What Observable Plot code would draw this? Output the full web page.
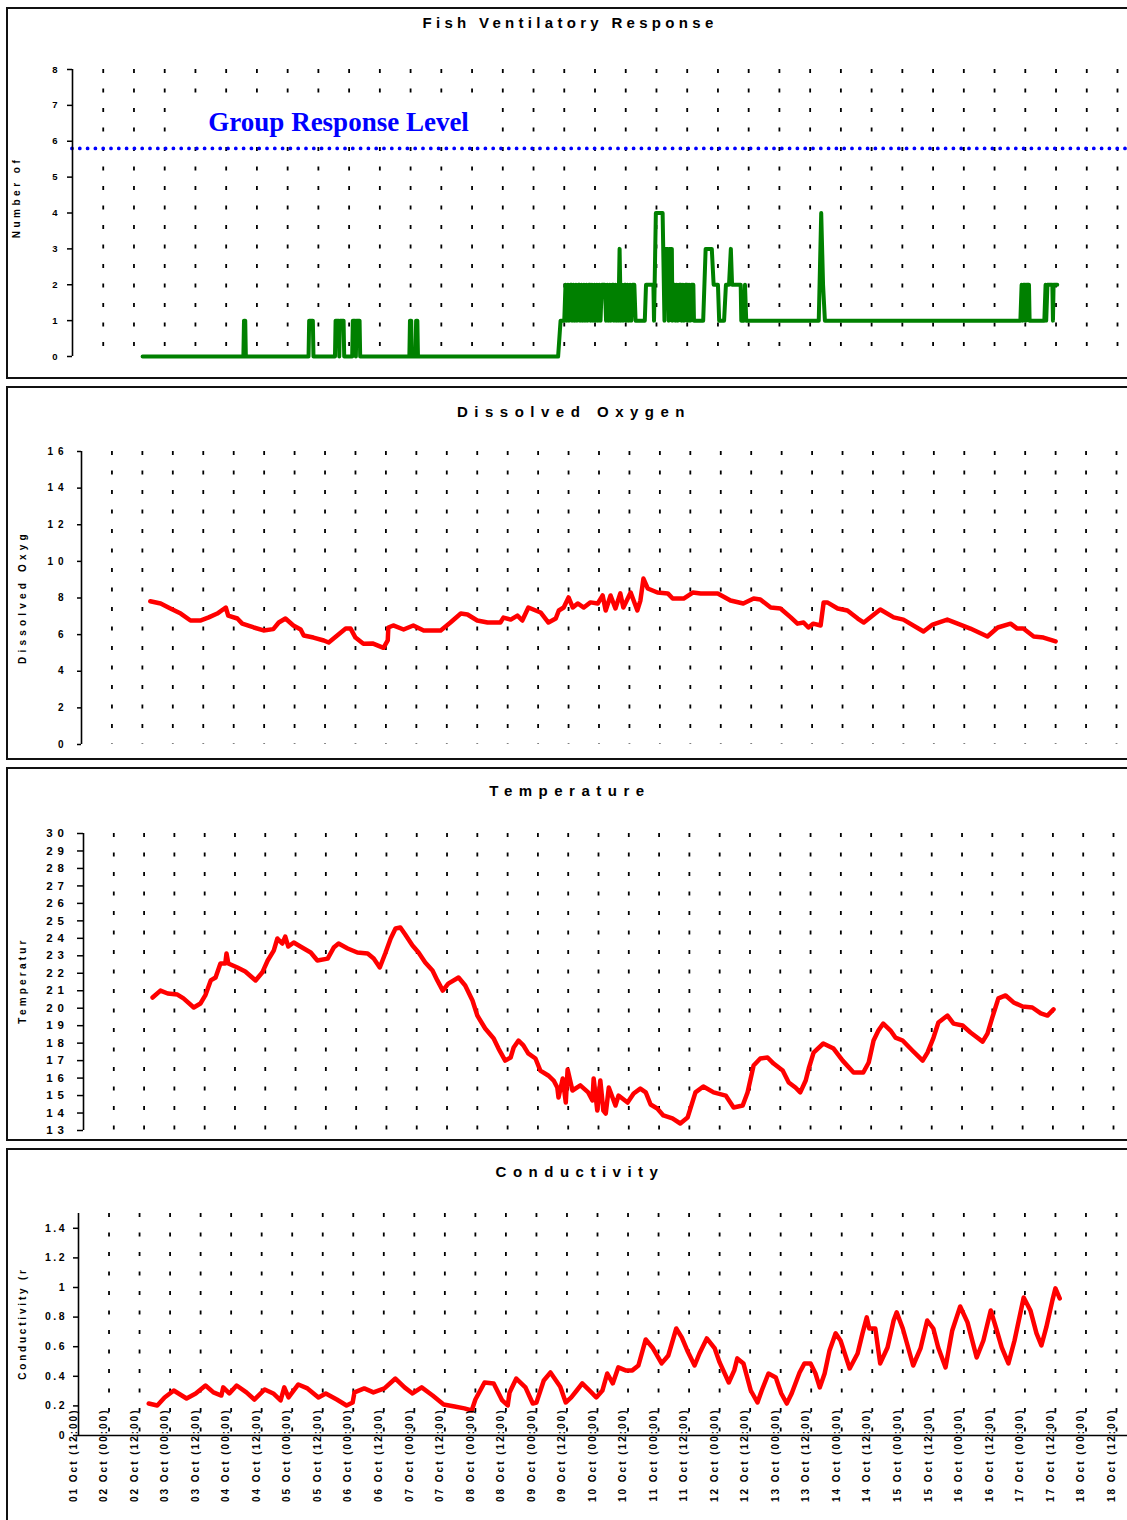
<!DOCTYPE html>
<html>
<head>
<meta charset="utf-8">
<script src="https://cdn.jsdelivr.net/npm/d3@7"></script>
<script src="https://cdn.jsdelivr.net/npm/@observablehq/plot@0.6"></script>
<style>
  html, body { margin: 0; padding: 0; background: #fff; width: 1127px; height: 1520px; overflow: hidden; position: relative; }
  .panel { position: absolute; left: 6px; width: 1140px; border: 2px solid #111; box-sizing: border-box; }
  .title { position: absolute; left: 0; width: 1140px; text-align: center; font-family: "Liberation Sans", Arial, Helvetica, sans-serif; font-weight: bold; color: #000; line-height: 16px; white-space: nowrap; }
  .chart { position: absolute; left: 0; }
</style>
</head>
<body>
<div class="panel" style="top:7px;height:372px"></div>
<div class="panel" style="top:386px;height:374px"></div>
<div class="panel" style="top:767px;height:374px"></div>
<div class="panel" style="top:1148px;height:400px"></div>

<div class="title" id="t1" style="top:15px;font-size:15px;letter-spacing:4.3px"></div>
<div class="title" id="t2" style="top:404px;font-size:15px;letter-spacing:6.5px;left:4px"></div>
<div class="title" id="t3" style="top:783px;font-size:15px;letter-spacing:6.5px"></div>
<div class="title" id="t4" style="top:1164px;font-size:15px;letter-spacing:6.5px;left:10px"></div>

<div class="chart" id="c1" style="top:8px"></div>
<div class="chart" id="c2" style="top:387px"></div>
<div class="chart" id="c3" style="top:768px"></div>
<div class="chart" id="c4" style="top:1149px"></div>

<script>
// ---------------- DATA ----------------
const panelTitles = ["Fish Ventilatory Response", "Dissolved Oxygen", "Temperature", "Conductivity"];
const yLabels = ["Number of", "Dissolved Oxyg", "Temperatur", "Conductivity (r"];

const groupResponseLevel = 5.8;
const groupLabel = "Group Response Level";
const groupLabelDay = 3.71;
const groupLabelY = 6.52;

const xTickLabels = [
  "01 Oct (12:00)", "02 Oct (00:00)", "02 Oct (12:00)", "03 Oct (00:00)", "03 Oct (12:00)",
  "04 Oct (00:00)", "04 Oct (12:00)", "05 Oct (00:00)", "05 Oct (12:00)", "06 Oct (00:00)",
  "06 Oct (12:00)", "07 Oct (00:00)", "07 Oct (12:00)", "08 Oct (00:00)", "08 Oct (12:00)",
  "09 Oct (00:00)", "09 Oct (12:00)", "10 Oct (00:00)", "10 Oct (12:00)", "11 Oct (00:00)",
  "11 Oct (12:00)", "12 Oct (00:00)", "12 Oct (12:00)", "13 Oct (00:00)", "13 Oct (12:00)",
  "14 Oct (00:00)", "14 Oct (12:00)", "15 Oct (00:00)", "15 Oct (12:00)", "16 Oct (00:00)",
  "16 Oct (12:00)", "17 Oct (00:00)", "17 Oct (12:00)", "18 Oct (00:00)", "18 Oct (12:00)"
];

const fishTicks = [0, 1, 2, 3, 4, 5, 6, 7, 8];
const doTicks = [0, 2, 4, 6, 8, 10, 12, 14, 16];
const tempTicks = [13, 14, 15, 16, 17, 18, 19, 20, 21, 22, 23, 24, 25, 26, 27, 28, 29, 30];
const condTicks = [0, 0.2, 0.4, 0.6, 0.8, 1, 1.2, 1.4];

// Fish ventilatory response: time (day of October, decimal) and number of fish
const fishDays = [2.64,4.28,4.29,4.31,4.32,5.34,5.35,5.41,5.42,5.77,5.78,5.83,5.84,5.85,5.91,5.92,
  6.05,6.06,6.10,6.11,6.12,6.17,6.18,6.98,6.99,7.01,7.02,7.08,7.09,7.11,7.12,9.40,9.44,9.50,
  9.52,9.54,9.56,9.58,9.60,9.62,9.63,9.65,9.67,9.69,9.71,9.73,9.75,9.76,9.78,9.80,9.82,9.84,9.86,9.88,
  9.90,9.92,9.93,9.95,9.97,9.99,10.01,10.03,10.05,10.07,10.09,10.11,10.16,10.18,10.20,10.22,10.24,10.26,
  10.28,10.30,10.31,10.33,10.35,10.37,10.38,10.40,10.42,10.44,10.46,10.48,10.50,10.51,10.53,10.55,10.57,
  10.59,10.61,10.64,10.66,10.81,10.83,10.95,10.96,10.99,11.10,11.13,11.15,11.19,11.20,11.21,11.25,11.26,
  11.28,11.30,11.31,11.33,11.35,11.37,11.40,11.41,11.43,11.45,11.47,11.50,11.51,11.53,11.55,11.57,11.60,
  11.61,11.76,11.80,11.90,11.93,12.00,12.02,12.10,12.13,12.18,12.21,12.23,12.37,12.38,12.42,12.44,12.46,
  13.64,13.68,13.71,13.74,16.92,16.94,16.96,16.97,17.00,17.01,17.02,17.06,17.07,17.31,17.33,17.34,17.36,
  17.44,17.45,17.46,17.52];
const fishCounts = [0,0,1,1,0,0,1,1,0,0,1,1,0,1,1,0,
  0,1,1,0,1,1,0,0,1,1,0,0,1,1,0,0,1,1,
  2,1,2,1,2,2,1,2,1,2,1,2,2,1,2,1,2,1,2,1,
  2,2,1,2,1,2,1,2,1,2,1,2,2,1,2,1,2,1,
  2,2,1,2,1,2,1,3,1,2,1,2,2,1,2,1,2,
  1,2,2,1,1,2,2,1,4,4,1,3,3,1,3,3,1,
  2,2,1,2,1,2,2,1,2,1,2,2,1,2,1,2,2,
  1,1,3,3,2,2,1,1,2,2,3,2,2,1,1,2,1,
  1,4,2,1,1,2,1,2,2,1,2,2,1,1,2,1,2,
  2,1,2,2];

// Dissolved oxygen
const doDays = [2.63,2.80,2.96,3.13,3.29,3.45,3.59,3.73,3.87,3.91,4.06,4.14,4.33,4.49,4.65,4.74,4.85,4.98,
  5.10,5.15,5.31,5.48,5.56,5.70,5.84,5.92,6.00,6.13,6.28,6.36,6.46,6.53,6.54,6.62,6.79,6.95,7.12,7.40,
  7.56,7.73,7.84,8.00,8.17,8.38,8.43,8.55,8.66,8.74,8.84,9.04,9.17,9.29,9.34,9.42,9.50,9.57,9.65,9.75,
  9.86,9.98,10.06,10.11,10.19,10.27,10.35,10.40,10.52,10.63,10.68,10.73,10.80,10.96,11.13,11.21,11.39,
  11.54,11.67,11.95,12.16,12.37,12.54,12.65,12.82,12.98,13.15,13.26,13.36,13.44,13.52,13.64,13.69,13.75,
  13.92,14.08,14.25,14.35,14.62,14.84,15.00,15.33,15.48,15.72,15.89,16.10,16.38,16.55,16.76,16.87,16.97,
  17.14,17.30,17.50];
const doValues = [7.82,7.70,7.43,7.15,6.77,6.77,6.94,7.15,7.48,7.04,6.88,6.60,6.39,6.23,6.30,6.66,6.88,6.50,
  6.28,5.95,5.84,5.68,5.57,5.95,6.33,6.33,5.84,5.50,5.52,5.41,5.28,5.68,6.39,6.50,6.28,6.50,6.23,6.23,
  6.66,7.15,7.10,6.77,6.66,6.66,6.93,6.82,7.04,6.77,7.48,7.21,6.66,6.88,7.32,7.48,8.03,7.48,7.70,7.48,
  7.76,7.70,8.14,7.32,8.14,7.43,8.25,7.48,8.30,7.32,7.86,9.06,8.52,8.30,8.25,7.97,7.97,
  8.30,8.25,8.25,7.86,7.70,7.97,7.92,7.48,7.43,6.94,6.60,6.66,6.39,6.60,6.50,7.76,7.76,
  7.43,7.32,6.88,6.66,7.37,6.94,6.82,6.17,6.55,6.82,6.60,6.33,5.90,6.39,6.60,6.33,6.33,
  5.90,5.84,5.63];

// Temperature
const tempDays = [2.64,2.77,2.89,3.05,3.15,3.32,3.43,3.51,3.60,3.68,3.76,3.84,3.86,3.89,4.04,4.17,4.34,4.45,
  4.54,4.64,4.70,4.78,4.83,4.88,4.97,5.08,5.25,5.36,5.53,5.63,5.71,5.86,6.02,6.19,6.29,6.39,6.48,6.57,
  6.65,6.73,6.81,6.93,7.03,7.14,7.26,7.34,7.43,7.52,7.69,7.80,7.92,8.00,8.13,8.27,8.35,8.46,8.55,8.60,
  8.68,8.76,8.84,8.96,9.04,9.17,9.26,9.32,9.34,9.41,9.46,9.49,9.57,9.70,9.83,9.90,9.92,9.98,10.03,10.08,
  10.12,10.17,10.28,10.33,10.48,10.58,10.69,10.78,10.86,10.97,11.07,11.22,11.35,11.47,11.60,11.73,11.90,
  12.10,12.23,12.38,12.46,12.56,12.67,12.79,12.89,13.04,13.14,13.25,13.33,13.42,13.47,13.55,13.71,13.88,
  14.03,14.21,14.37,14.46,14.54,14.62,14.70,14.82,14.90,15.02,15.18,15.35,15.43,15.53,15.61,15.76,15.86,
  16.01,16.14,16.34,16.42,16.50,16.60,16.72,16.85,17.00,17.16,17.30,17.41,17.51];
const tempValues = [20.61,21.01,20.84,20.78,20.56,20.04,20.27,20.73,21.59,21.76,22.56,22.56,23.13,22.56,22.33,22.10,21.59,22.04,
  22.73,23.30,23.99,23.70,24.10,23.53,23.76,23.53,23.19,22.73,22.84,23.47,23.70,23.42,23.19,23.13,22.84,22.33,23.13,23.99,
  24.56,24.62,24.22,23.59,23.19,22.62,22.16,21.59,21.01,21.41,21.76,21.30,20.44,19.58,18.84,18.27,17.69,17.00,17.18,17.75,
  18.15,17.87,17.41,17.12,16.43,16.15,15.86,15.46,14.89,15.98,14.60,16.49,15.29,15.58,15.18,14.72,15.98,14.14,15.86,14.14,
  13.97,15.46,14.43,15.00,14.60,15.12,15.40,15.18,14.49,14.26,13.86,13.69,13.40,13.74,15.18,15.52,15.18,
  15.00,14.32,14.43,15.18,16.72,17.12,17.18,16.83,16.43,15.75,15.46,15.18,15.86,16.55,17.46,17.98,17.69,
  17.00,16.32,16.32,16.89,18.15,18.72,19.12,18.72,18.32,18.15,17.58,17.00,17.46,18.32,19.18,19.58,19.12,
  19.01,18.61,18.09,18.55,19.47,20.56,20.73,20.33,20.10,20.04,19.70,19.58,19.93];

// Conductivity
const condDays = [2.65,2.79,2.91,3.06,3.27,3.42,3.58,3.71,3.84,3.87,3.97,4.09,4.25,4.38,4.55,4.69,4.81,4.87,
  4.94,5.10,5.25,5.43,5.55,5.73,5.89,5.99,6.02,6.18,6.33,6.51,6.69,6.84,6.97,7.12,7.30,7.48,7.66,7.82,
  7.94,8.00,8.15,8.30,8.44,8.53,8.56,8.67,8.82,8.94,9.00,9.12,9.23,9.39,9.48,9.57,9.66,9.75,9.90,9.98,
  10.08,10.16,10.25,10.34,10.46,10.57,10.67,10.79,10.90,11.05,11.16,11.29,11.38,11.47,11.59,11.67,11.79,
  11.92,12.00,12.15,12.24,12.29,12.39,12.51,12.62,12.69,12.80,12.92,13.01,13.10,13.18,13.31,13.39,13.49,
  13.57,13.64,13.72,13.80,13.90,13.98,14.13,14.26,14.34,14.41,14.45,14.55,14.63,14.75,14.85,14.90,15.00,
  15.17,15.29,15.40,15.50,15.58,15.70,15.81,15.94,16.06,16.21,16.32,16.44,16.53,16.62,16.73,16.83,16.98,
  17.09,17.19,17.27,17.35,17.45,17.50,17.57];
const condValues = [0.216,0.203,0.257,0.304,0.25,0.284,0.338,0.291,0.27,0.325,0.284,0.338,0.291,0.243,0.311,0.284,0.237,0.325,
  0.257,0.345,0.318,0.257,0.284,0.243,0.203,0.223,0.291,0.318,0.291,0.318,0.385,0.325,0.284,0.325,0.27,0.21,0.196,0.183,
  0.169,0.243,0.358,0.352,0.237,0.203,0.291,0.385,0.325,0.216,0.223,0.372,0.426,0.33,0.223,0.257,0.304,0.352,0.291,0.257,
  0.304,0.419,0.352,0.46,0.44,0.44,0.473,0.649,0.595,0.487,0.541,0.723,0.663,0.575,0.473,0.554,0.656,
  0.588,0.494,0.358,0.44,0.521,0.487,0.304,0.223,0.304,0.419,0.392,0.284,0.216,0.284,0.426,0.487,0.487,
  0.419,0.325,0.419,0.575,0.69,0.642,0.453,0.554,0.69,0.798,0.723,0.723,0.487,0.595,0.777,0.832,0.723,
  0.473,0.588,0.777,0.723,0.595,0.46,0.71,0.872,0.764,0.527,0.642,0.845,0.723,0.595,0.487,0.642,0.933,
  0.845,0.69,0.608,0.73,0.913,0.994,0.926];

// ---------------- CHART ----------------
const day = d => new Date(Date.UTC(2003, 9, 1) + (d - 1) * 864e5);
const X0 = day(1.5), X1 = day(18.5), XR = day(18.8);
const gridDates = d3.utcHour.every(12).range(day(2), day(18.6));
const tickDates = [X0, ...gridDates];

const rows = (days, vals) => days.map((d, i) => ({date: day(d), v: vals[i]}));
const fishRows = rows(fishDays, fishCounts);
const doRows = rows(doDays, doValues);
const tempRows = rows(tempDays, tempValues);
const condRows = rows(condDays, condValues);

const baseStyle = {
  background: "transparent", overflow: "visible", color: "#000",
  fontFamily: "'Liberation Sans', Arial, Helvetica, sans-serif", fontWeight: "bold"
};
const grid = () => Plot.ruleX(gridDates, {stroke: "#000", strokeWidth: 1.8, strokeDasharray: "4,15.5"});
const yLine = () => Plot.ruleX([X0], {stroke: "#000", strokeWidth: 1.6});

document.getElementById("t1").textContent = panelTitles[0];
document.getElementById("t2").textContent = panelTitles[1];
document.getElementById("t3").textContent = panelTitles[2];
document.getElementById("t4").textContent = panelTitles[3];

function spaceText(svg, tickSpacing, labelText, labelSpacing, extra) {
  svg.querySelectorAll('g[aria-label="y-axis tick label"] text').forEach(t => t.style.letterSpacing = tickSpacing + "px");
  svg.querySelectorAll("text").forEach(t => {
    if (t.textContent === labelText) t.style.letterSpacing = labelSpacing + "px";
    if (extra && extra.texts.includes(t.textContent)) t.style.letterSpacing = extra.spacing + "px";
  });
}

// Panel 1: Fish Ventilatory Response
const p1 = Plot.plot({
  width: 1127, height: 370, marginTop: 61, marginBottom: 22, marginLeft: 72, marginRight: 10,
  style: baseStyle,
  x: {type: "utc", domain: [X0, X1], axis: null},
  y: {domain: [0, 8], axis: null},
  marks: [
    grid(),
    Plot.ruleY([groupResponseLevel], {x1: X0, x2: XR, stroke: "#0000ff", strokeWidth: 3.8, strokeDasharray: "0,7.8", strokeLinecap: "round"}),
    Plot.line(fishRows, {x: "date", y: "v", stroke: "#008000", strokeWidth: 4, strokeLinejoin: "round", strokeLinecap: "round"}),
    Plot.text([groupLabel], {x: day(groupLabelDay), y: groupLabelY, textAnchor: "start", fill: "#0000ff",
      fontFamily: "'Liberation Serif', 'Times New Roman', serif", fontSize: 27, fontWeight: "bold"}),
    yLine(),
    Plot.axisY({ticks: fishTicks, tickSize: 5, tickPadding: 10, fontSize: 9.5, label: null, strokeWidth: 1.5}),
    Plot.text([yLabels[0]], {frameAnchor: "left", textAnchor: "middle", rotate: -90, dx: -56, dy: -15.5, fontSize: 10})
  ]
});
spaceText(p1, 0, yLabels[0], 3.5);
document.getElementById("c1").append(p1);
// white box behind the annotation label (sized from the rendered text, after it is in the page)
(function () {
  const t = Array.from(p1.querySelectorAll("text")).find(e => e.textContent === groupLabel);
  if (!t) return;
  const bb = t.getBBox();
  const r = document.createElementNS("http://www.w3.org/2000/svg", "rect");
  r.setAttribute("x", bb.x - 23);
  r.setAttribute("y", bb.y - 6);
  r.setAttribute("width", bb.width + 43);
  r.setAttribute("height", bb.height + 7);
  r.setAttribute("fill", "#fff");
  if (t.getAttribute("transform")) r.setAttribute("transform", t.getAttribute("transform"));
  t.parentNode.insertBefore(r, t);
})();

// Panel 2: Dissolved Oxygen
const p2 = Plot.plot({
  width: 1127, height: 372, marginTop: 64, marginBottom: 15, marginLeft: 81, marginRight: 11,
  style: baseStyle,
  x: {type: "utc", domain: [X0, X1], axis: null},
  y: {domain: [0, 16], axis: null},
  marks: [
    grid(),
    Plot.line(doRows, {x: "date", y: "v", stroke: "#ff0000", strokeWidth: 4.5, strokeLinejoin: "round", strokeLinecap: "round"}),
    yLine(),
    Plot.axisY({ticks: doTicks, tickSize: 4, tickPadding: 9, fontSize: 10, label: null, strokeWidth: 1.5}),
    Plot.text([yLabels[1]], {frameAnchor: "left", textAnchor: "middle", rotate: -90, dx: -59, dy: -1, fontSize: 10})
  ]
});
spaceText(p2, 5, yLabels[1], 4.2);
document.getElementById("c2").append(p2);

// Panel 3: Temperature
const p3 = Plot.plot({
  width: 1127, height: 372, marginTop: 65, marginBottom: 10, marginLeft: 83, marginRight: 14,
  style: baseStyle,
  x: {type: "utc", domain: [X0, X1], axis: null},
  y: {domain: [13, 30], axis: null},
  marks: [
    grid(),
    Plot.line(tempRows, {x: "date", y: "v", stroke: "#ff0000", strokeWidth: 4.5, strokeLinejoin: "round", strokeLinecap: "round"}),
    yLine(),
    Plot.axisY({ticks: tempTicks, tickSize: 6, tickPadding: 8.5, fontSize: 11.5, label: null, strokeWidth: 1.5}),
    Plot.text([yLabels[2]], {frameAnchor: "left", textAnchor: "middle", rotate: -90, dx: -61, dy: -1.5, fontSize: 10})
  ]
});
spaceText(p3, 5, yLabels[2], 3.2);
document.getElementById("c3").append(p3);

// Panel 4: Conductivity
const p4 = Plot.plot({
  width: 1127, height: 371, marginTop: 64, marginBottom: 85, marginLeft: 78, marginRight: 11,
  style: baseStyle,
  x: {type: "utc", domain: [X0, X1], axis: null},
  y: {domain: [0, 1.5], axis: null},
  marks: [
    grid(),
    Plot.line(condRows, {x: "date", y: "v", stroke: "#ff0000", strokeWidth: 4.5, strokeLinejoin: "round", strokeLinecap: "round"}),
    yLine(),
    Plot.ruleY([0], {x1: X0, x2: XR, stroke: "#000", strokeWidth: 1.6}),
    Plot.axisY({ticks: condTicks, tickSize: 5, tickPadding: 6.5, fontSize: 10.5, label: null, strokeWidth: 1.5,
      tickFormat: d3.format("~g")}),
    Plot.text(tickDates, {x: d => d, y: 0, text: (d, i) => xTickLabels[i], rotate: -90, textAnchor: "end",
      dx: -5, dy: -27, fontSize: 10}),
    Plot.text([yLabels[3]], {frameAnchor: "left", textAnchor: "middle", rotate: -90, dx: -56, dy: -1, fontSize: 10})
  ]
});
spaceText(p4, 2.5, yLabels[3], 2.8, {texts: xTickLabels, spacing: 2});
document.getElementById("c4").append(p4);
</script>
</body>
</html>
